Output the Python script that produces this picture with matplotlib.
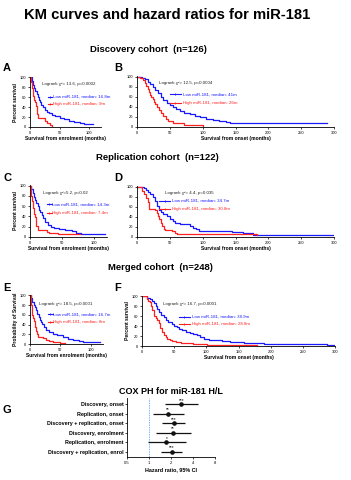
import matplotlib
matplotlib.use("Agg")
import matplotlib.pyplot as plt
import numpy as np
from matplotlib.lines import Line2D

plt.rcParams['font.family'] = ['Liberation Sans', 'DejaVu Sans']

# ---------------- data ----------------
A_low_t = [0, 3, 5, 7, 9, 11, 13, 15, 17, 19, 22, 25, 28, 32, 37, 43, 50, 58, 66, 75, 84, 92, 100, 107]
A_low_s = [100, 92, 85, 78, 72, 66, 60, 55, 50, 45, 40, 35, 31, 28, 25, 22, 19, 16, 13, 11, 9, 7, 6, 6]
A_high_t = [0, 1, 3, 5, 7, 9, 10, 11, 12, 13, 25, 29, 33, 38]
A_high_s = [100, 90, 78, 62, 55, 50, 42, 35, 27, 19, 12, 9, 5, 0]

B_low_t = [0, 8, 12, 16, 20, 24, 28, 32, 36, 40, 45, 50, 55, 60, 66, 72, 80, 88, 96, 105, 115, 125, 135, 142, 290]
B_low_s = [100, 98, 95, 90, 85, 80, 74, 67, 60, 53, 48, 44, 40, 36, 32, 28, 25, 22, 19, 16, 14, 12, 10, 7, 7]
B_high_t = [0, 5, 9, 12, 14, 16, 18, 20, 22, 24, 26, 28, 30, 33, 36, 40, 44, 47, 55, 66, 72, 100, 100.01]
B_high_s = [100, 98, 93, 87, 82, 76, 70, 64, 59, 55, 50, 45, 40, 34, 28, 22, 16, 11, 8, 8, 4, 4, 0]

C_low_t = [0, 2, 4, 6, 8, 10, 12, 14, 16, 18, 21, 24, 28, 33, 38, 45, 55, 65, 72, 80, 90, 117]
C_low_s = [100, 93, 86, 78, 71, 66, 60, 53, 48, 42, 36, 30, 24, 20, 17, 15, 13, 11, 8, 6, 5, 5]
C_high_t = [0, 1, 2, 3, 4, 5, 6, 7, 8, 9, 10, 12, 26, 30, 44, 50, 78]
C_high_s = [100, 90, 80, 70, 62, 56, 50, 45, 38, 30, 22, 13, 10, 8, 6, 5, 5]

D_low_t = [0, 10, 13, 16, 20, 24, 28, 31, 33, 36, 40, 45, 50, 55, 58, 65, 75, 81, 86, 90, 95, 110, 145, 162, 177, 300]
D_low_s = [100, 97, 93, 90, 86, 80, 72, 62, 53, 50, 46, 41, 36, 31, 27, 26, 25, 22, 18, 15, 12, 11, 10, 8, 4, 3]
D_high_t = [0, 8, 11, 14, 16, 19, 28, 30, 32, 34, 36, 38, 41, 43, 53, 58, 61, 182]
D_high_s = [100, 92, 85, 78, 69, 56, 53, 47, 42, 36, 28, 21, 16, 13, 12, 8, 5, 4]

E_low_t = [0, 2, 4, 6, 8, 10, 12, 14, 16, 18, 20, 23, 27, 32, 38, 45, 54, 62, 71, 80, 87, 115]
E_low_s = [100, 94, 87, 81, 76, 70, 62, 55, 50, 46, 41, 35, 29, 25, 21, 18, 14, 11, 9, 7, 5, 5]
E_high_t = [0, 1, 2, 3, 4, 5, 6, 7, 8, 9, 10, 11, 13, 22, 27, 32, 38, 49, 57]
E_high_s = [100, 90, 80, 70, 60, 54, 50, 47, 44, 36, 27, 20, 15, 13, 9, 6, 4, 2, 2]

F_low_t = [0, 8, 12, 15, 18, 21, 24, 27, 30, 34, 38, 41, 46, 50, 54, 58, 62, 68, 75, 80, 85, 90, 96, 104, 111, 125, 137, 158, 189, 287, 300]
F_low_s = [100, 97, 94, 91, 86, 81, 75, 68, 63, 58, 53, 49, 45, 41, 38, 35, 32, 29, 26, 24, 22, 18, 15, 13, 12, 10, 9, 7, 5, 2, 2]
F_high_t = [0, 7, 10, 12, 14, 16, 18, 21, 23, 26, 28, 31, 34, 37, 39, 43, 47, 53, 60, 70, 80, 101, 178]
F_high_s = [100, 95, 91, 88, 80, 72, 60, 56, 52, 46, 36, 28, 22, 18, 15, 13, 11, 9, 7, 6, 5, 3, 3]

logrank = ["Logrank \u03c7\u00b2= 13.6, p=0.0002", "Logrank \u03c7\u00b2= 12.5, p=0.0004",
           "Logrank \u03c7\u00b2=5.2, p=0.02", "Logrank \u03c7\u00b2= 4.4, p=0.035",
           "Logrank \u03c7\u00b2= 18.5, p=0.0001", "Logrank \u03c7\u00b2= 16.7, p=0.0001"]
low_medians = ["16.8m", "41m", "14.3m", "34.7m", "16.7m", "38.9m"]
high_medians = ["9m", "26m", "7.4m", "30.8m", "8m", "28.8m"]

cox_labels = ["Discovery, onset", "Replication, onset", "Discovery + replication, onset",
              "Discovery, enrolment", "Replication, enrolment", "Discovery + replication, enrol"]
cox_hr = [2.78, 1.82, 2.18, 2.13, 1.73, 2.06]
cox_lo = [1.67, 1.12, 1.50, 1.24, 0.98, 1.46]
cox_hi = [4.67, 3.00, 3.10, 3.70, 3.16, 2.84]
cox_stars = ["***", "**", "***", "**", "*", "***"]
cox_ticks = [0.5, 1, 2, 4, 8]

# ---------------- figure ----------------
W, H = 351, 480
fig = plt.figure(figsize=(W / 100, H / 100), dpi=100)
BLUE = '#1a1aff'
RED = '#ff2020'


def rect(x0, y0, x1, y1):
    return [x0 / W, 1 - y1 / H, (x1 - x0) / W, (y1 - y0) / H]


def style(ax):
    for s in ['top', 'right']:
        ax.spines[s].set_visible(False)
    for s in ['left', 'bottom']:
        ax.spines[s].set_linewidth(0.6)
    ax.tick_params(length=1.6, width=0.5, labelsize=2.9, pad=1)


def km_panel(box, xmax, xticks, lt, ls, ht, hs, i, xlabel, ylabel, lr_pos, leg_x, leg_y):
    ax = fig.add_axes(rect(*box))
    style(ax)
    ax.step(lt, ls, where='post', color=BLUE, lw=0.9)
    ax.step(ht, hs, where='post', color=RED, lw=0.9)
    ax.set_xlim(0, xmax)
    ax.set_ylim(0, 101)
    ax.set_xticks(xticks)
    ax.set_yticks([0, 20, 40, 60, 80, 100])
    ax.set_xlabel(xlabel, fontsize=3.6, fontweight='bold', labelpad=1)
    ax.set_ylabel(ylabel, fontsize=3.6, fontweight='bold', labelpad=1.5)
    ax.text(lr_pos[0], lr_pos[1], logrank[i], transform=ax.transAxes, fontsize=3.2,
            va='center', ha='left', color='#222222')
    for (col, lab, yy) in [(BLUE, "Low miR-181, median: " + low_medians[i], leg_y[0]),
                           (RED, "High miR-181, median: " + high_medians[i], leg_y[1])]:
        ax.add_line(Line2D([leg_x - 0.07, leg_x - 0.01], [yy, yy], transform=ax.transAxes,
                           color=col, lw=0.8, clip_on=False))
        ax.add_line(Line2D([leg_x - 0.04], [yy], transform=ax.transAxes, color=col,
                           marker='|', ms=1.8, mew=0.6, clip_on=False))
        ax.text(leg_x, yy, lab, transform=ax.transAxes, fontsize=3.2, color=col,
                va='center', ha='left')
    return ax


fig.text(167 / W, 1 - 15 / H, "KM curves and hazard ratios for miR-181", fontsize=10.6,
         fontweight='bold', ha='center', va='center')
fig.text(148 / W, 1 - 49 / H, "Discovery cohort  (n=126)", fontsize=6.8, fontweight='bold',
         ha='center', va='center')
fig.text(157 / W, 1 - 158 / H, "Replication cohort  (n=122)", fontsize=6.8, fontweight='bold',
         ha='center', va='center')
fig.text(160 / W, 1 - 268 / H, "Merged cohort  (n=248)", fontsize=6.8, fontweight='bold',
         ha='center', va='center')

for lab, x, y in [("A", 7, 68), ("B", 118, 68), ("C", 7, 178), ("D", 118, 178),
                  ("E", 7, 288), ("F", 118, 288), ("G", 7, 410)]:
    fig.text(x / W, 1 - y / H, lab, fontsize=8, fontweight='bold', ha='center', va='center')

enrol = "Survival from enrolment (months)"
onset = "Survival from onset (months)"

km_panel((30, 77, 101, 127), 120, [0, 50, 100], A_low_t, A_low_s, A_high_t, A_high_s, 0,
         enrol, "Percent survival", (0.17, 0.86), 0.32, (0.60, 0.47))
km_panel((137, 76, 334, 127), 300, [0, 50, 100, 150, 200, 250, 300], B_low_t, B_low_s,
         B_high_t, B_high_s, 1, onset, "", (0.11, 0.86), 0.235, (0.64, 0.47))
km_panel((30, 185, 107, 237), 120, [0, 50, 100], C_low_t, C_low_s, C_high_t, C_high_s, 2,
         enrol, "Percent survival", (0.17, 0.85), 0.29, (0.63, 0.47))
km_panel((137, 186, 334, 237), 300, [0, 50, 100, 150, 200, 250, 300], D_low_t, D_low_s,
         D_high_t, D_high_s, 3, onset, "", (0.14, 0.87), 0.18, (0.71, 0.54))
km_panel((30, 295, 103, 344), 120, [0, 50, 100], E_low_t, E_low_s, E_high_t, E_high_s, 4,
         enrol, "Probability of Survival", (0.13, 0.82), 0.32, (0.61, 0.44))
km_panel((142, 296, 335, 346), 300, [0, 50, 100, 150, 200, 250, 300], F_low_t, F_low_s,
         F_high_t, F_high_s, 5, onset, "Percent survival", (0.11, 0.84), 0.26, (0.59, 0.45))

# ---------------- forest plot ----------------
axG = fig.add_axes(rect(127, 398, 215, 457))
style(axG)
axG.set_xscale('log', base=2)
axG.set_xlim(0.5, 8)
axG.set_xticks(cox_ticks)
axG.set_xticklabels([str(t) for t in cox_ticks])
axG.minorticks_off()
ypos = np.arange(len(cox_labels))
axG.axvline(1, color='#7ab8ff', lw=0.7, ls=(0, (1.5, 1)))
axG.hlines(ypos, cox_lo, cox_hi, color='#111111', lw=0.9)
axG.plot(cox_hr, ypos, 'o', color='#111111', ms=2.3)
for y, hr, st in zip(ypos, cox_hr, cox_stars):
    axG.text(hr, y - 0.42, st, fontsize=3.4, ha='center', va='center')
axG.set_yticks(ypos)
axG.set_yticklabels(cox_labels, fontsize=3.9, fontweight='bold')
axG.set_ylim(5.52, -0.65)
axG.tick_params(axis='x', labelsize=3.0)
axG.set_xlabel("Hazard ratio, 95% CI", fontsize=3.9, fontweight='bold', labelpad=2)
axG.set_title("COX PH for miR-181 H/L", fontsize=6.5, fontweight='bold', pad=3)

fig.savefig("out.png", dpi=100)
